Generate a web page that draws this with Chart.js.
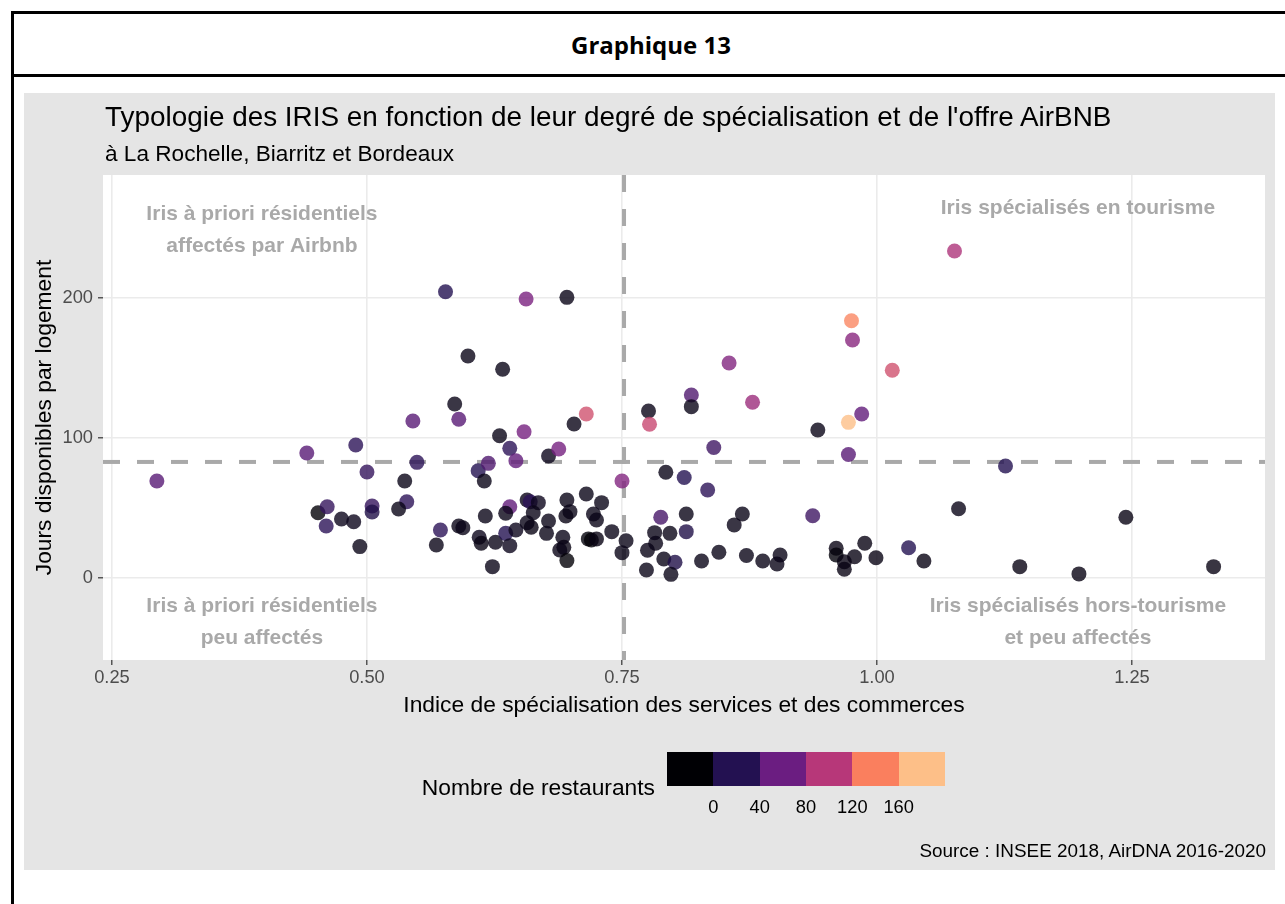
<!DOCTYPE html>
<html lang="fr">
<head>
<meta charset="utf-8">
<title>Graphique 13</title>
<script src="https://cdn.jsdelivr.net/npm/chart.js@4.4.1/dist/chart.umd.min.js"></script>
<style>
  body { margin: 0; width: 1285px; height: 904px; overflow: hidden; position: relative; background: #fff;
         font-family: "Liberation Sans", Arial, sans-serif; }
  #frame { position: absolute; left: 11px; top: 11px; width: 1300px; height: 1000px;
           border-left: 3px solid #000; border-top: 3px solid #000; }
  #header { position: absolute; left: 14px; top: 14px; width: 1274px; height: 60px; border-bottom: 3px solid #000;
            display: flex; align-items: center; justify-content: center;
            font-family: "Open Sans", sans-serif; font-weight: 700; font-size: 24px; }
  #panel { position: absolute; left: 24px; top: 93px; width: 1251px; height: 777px; background: #e5e5e5; }
  #panel canvas { position: absolute; left: 0; top: 0; }
  .txt { position: absolute; line-height: 1; white-space: nowrap; color: #000; }
  #legendBar { position: absolute; left: 667px; top: 752px; width: 278px; height: 34px; display: flex; }
  #legendBar div { flex: 1; }
</style>
</head>
<body>
<div id="frame"></div>
<div id="header">Graphique 13</div>
<div id="panel"><canvas id="iris-chart" width="1251" height="777"></canvas></div>
<div class="txt" style="left:105px;top:102.5px;font-size:27.9px;">Typologie des IRIS en fonction de leur degré de spécialisation et de l'offre AirBNB</div>
<div class="txt" style="left:105px;top:142.7px;font-size:22.6px;">à La Rochelle, Biarritz et Bordeaux</div>
<div class="txt" style="left:0;width:655px;text-align:right;top:775.7px;font-size:22.8px;">Nombre de restaurants</div>
<div id="legendBar"></div>
<div id="legendLabels"></div>
<div class="txt" style="left:0;width:1266px;text-align:right;top:841.5px;font-size:18.9px;">Source : INSEE 2018, AirDNA 2016-2020</div>

<script>
// indice de spécialisation (x), jours disponibles par logement (y), nombre de restaurants (couleur)
const indice = [
  0.294, 0.441, 0.489, 0.500, 0.537, 0.549, 0.539, 0.531, 0.452, 0.461,
  0.460, 0.475, 0.487, 0.505, 0.505, 0.493, 0.572, 0.568, 0.590, 0.594,
  0.616, 0.610, 0.612, 0.626, 0.623, 0.640, 0.636, 0.636, 0.646, 0.640,
  0.657, 0.660, 0.668, 0.663, 0.657, 0.661, 0.678, 0.676, 0.696, 0.699,
  0.695, 0.692, 0.693, 0.689, 0.696, 0.715, 0.730, 0.722, 0.725, 0.717,
  0.720, 0.725, 0.740, 0.754, 0.750, 0.609, 0.619, 0.615, 0.640, 0.646,
  0.630, 0.577, 0.599, 0.633, 0.586, 0.545, 0.590, 0.656, 0.696, 0.703,
  0.715, 0.654, 0.678, 0.688, 0.750, 0.776, 0.777, 0.818, 0.818, 0.855,
  0.878, 0.840, 0.793, 0.811, 0.834, 0.788, 0.813, 0.868, 0.860, 0.937,
  1.080, 0.782, 0.797, 0.813, 0.775, 0.783, 0.791, 0.802, 0.774, 0.798,
  0.828, 0.845, 0.872, 0.888, 0.905, 0.902, 0.960, 0.960, 0.968, 0.968,
  0.978, 0.988, 0.999, 1.031, 1.046, 1.126, 1.244, 1.140, 1.198, 1.330,
  1.076, 0.975, 0.976, 1.015, 0.942, 0.972, 0.985, 0.972
];
const jours = [
  69.3, 89.3, 95.0, 75.7, 69.3, 82.6, 54.5, 49.3, 46.6, 50.9,
  37.1, 42.1, 40.2, 51.4, 47.1, 22.4, 34.3, 23.6, 37.1, 35.9,
  44.3, 29.1, 24.8, 25.5, 8.1, 50.9, 46.2, 31.9, 34.3, 23.1,
  55.7, 54.5, 53.8, 46.6, 39.5, 36.2, 40.7, 31.9, 55.7, 47.4,
  44.3, 29.1, 21.9, 20.0, 12.4, 60.0, 53.8, 45.7, 41.4, 27.9,
  27.1, 27.9, 33.1, 26.6, 18.1, 76.6, 81.9, 69.3, 92.6, 83.8,
  101.6, 204.5, 158.6, 149.1, 124.3, 112.1, 113.4, 199.3, 200.5, 110.0,
  117.1, 104.5, 87.1, 92.1, 69.3, 119.3, 109.8, 130.7, 122.4, 153.6,
  125.5, 93.2, 75.5, 71.8, 62.9, 43.4, 45.7, 45.7, 37.9, 44.5,
  49.5, 32.4, 31.9, 33.1, 19.8, 24.8, 13.6, 11.2, 5.7, 2.6,
  12.1, 18.4, 16.1, 12.1, 16.4, 10.0, 21.2, 16.4, 11.6, 6.2,
  15.2, 24.8, 14.5, 21.6, 12.1, 80.0, 43.4, 8.1, 2.9, 8.1,
  233.6, 183.8, 170.0, 148.4, 105.7, 111.2, 117.1, 88.2
];
const restaurants = [
  70, 70, 45, 50, 10, 45, 45, 10, 2, 50,
  45, 12, 12, 50, 35, 10, 45, 10, 10, 10,
  10, 12, 8, 10, 10, 75, 10, 40, 12, 12,
  10, 45, 12, 10, 10, 8, 10, 10, 10, 10,
  8, 10, 8, 10, 2, 10, 10, 10, 10, 3,
  2, 8, 10, 10, 10, 40, 65, 10, 45, 75,
  10, 40, 10, 10, 10, 70, 70, 88, 10, 10,
  135, 85, 12, 85, 92, 10, 130, 65, 10, 92,
  105, 55, 10, 40, 45, 60, 10, 10, 10, 55,
  10, 10, 10, 35, 10, 10, 10, 35, 10, 10,
  10, 10, 10, 10, 10, 10, 8, 3, 8, 8,
  8, 8, 8, 40, 8, 40, 8, 8, 8, 8,
  115, 165, 95, 135, 10, 200, 75, 70
];

const xTicks = [0.25, 0.50, 0.75, 1.00, 1.25];
const yTicks = [0, 100, 200];
const legendBreaks = [0, 40, 80, 120, 160];
const paletteColors = ['#000004', '#231151', '#6b1d81', '#b73779', '#fa7f5e', '#fdbf88'];
const paletteValues = [0, 40, 80, 120, 160, 200];

const seuilIndice = 0.752;
const seuilJours = 82.9;

const quadrantLabels = [
  { lines: ['Iris à priori résidentiels', 'affectés par Airbnb'], x: 0.397, y: 248.6 },
  { lines: ['Iris spécialisés en tourisme'], x: 1.197, y: 264.3 },
  { lines: ['Iris à priori résidentiels', 'peu affectés'], x: 0.397, y: -31.4 },
  { lines: ['Iris spécialisés hors-tourisme', 'et peu affectés'], x: 1.197, y: -31.4 }
];

const FONT = '"Liberation Sans", Arial, sans-serif';

function hexToRgb(h) {
  return [parseInt(h.slice(1, 3), 16), parseInt(h.slice(3, 5), 16), parseInt(h.slice(5, 7), 16)];
}

function colorFor(n) {
  let i = 0;
  while (i < paletteValues.length - 2 && n > paletteValues[i + 1]) i++;
  const t = Math.max(0, Math.min(1, (n - paletteValues[i]) / (paletteValues[i + 1] - paletteValues[i])));
  const a = hexToRgb(paletteColors[i]), b = hexToRgb(paletteColors[i + 1]);
  const c = a.map((v, k) => Math.round(v + (b[k] - v) * t));
  return `rgba(${c[0]}, ${c[1]}, ${c[2]}, 0.8)`;
}

// legend
const bar = document.getElementById('legendBar');
paletteColors.forEach(c => {
  const d = document.createElement('div');
  d.style.background = c;
  bar.appendChild(d);
});
const labels = document.getElementById('legendLabels');
legendBreaks.forEach((v, i) => {
  const d = document.createElement('div');
  d.className = 'txt';
  d.textContent = v;
  d.style.fontSize = '18.3px';
  d.style.top = '798px';
  d.style.width = '60px';
  d.style.textAlign = 'center';
  d.style.left = (667 + (278 / 6) * (i + 1) - 30) + 'px';
  labels.appendChild(d);
});

const panelBackground = {
  id: 'panelBackground',
  beforeDraw(chart) {
    const { ctx, chartArea: a } = chart;
    ctx.save();
    ctx.fillStyle = '#ffffff';
    ctx.fillRect(a.left, a.top, a.right - a.left, a.bottom - a.top);
    ctx.restore();
  }
};

const quadrants = {
  id: 'quadrants',
  beforeDatasetsDraw(chart) {
    const { ctx, chartArea: a, scales: { x, y } } = chart;
    ctx.save();
    ctx.beginPath();
    ctx.rect(a.left, a.top, a.right - a.left, a.bottom - a.top);
    ctx.clip();

    ctx.fillStyle = '#a9a9a9';
    ctx.font = 'bold 21px ' + FONT;
    ctx.textAlign = 'center';
    ctx.textBaseline = 'middle';
    quadrantLabels.forEach(q => {
      const cx = x.getPixelForValue(q.x);
      const cy = y.getPixelForValue(q.y);
      q.lines.forEach((line, i) => {
        ctx.fillText(line, cx, cy + (i - (q.lines.length - 1) / 2) * 32);
      });
    });

    ctx.strokeStyle = '#a9a9a9';
    ctx.lineWidth = 4;
    ctx.setLineDash([17, 17]);
    const yp = y.getPixelForValue(seuilJours);
    ctx.beginPath();
    ctx.moveTo(a.left, yp);
    ctx.lineTo(a.right, yp);
    ctx.stroke();
    const xp = x.getPixelForValue(seuilIndice);
    ctx.beginPath();
    ctx.moveTo(xp, a.top);
    ctx.lineTo(xp, a.bottom);
    ctx.stroke();
    ctx.restore();
  }
};

new Chart(document.getElementById('iris-chart'), {
  type: 'scatter',
  data: {
    datasets: [{
      data: indice.map((v, i) => ({ x: v, y: jours[i] })),
      pointBackgroundColor: restaurants.map(colorFor),
      pointBorderWidth: 0,
      pointRadius: 7.5,
      pointHoverRadius: 7.5
    }]
  },
  options: {
    responsive: false,
    animation: false,
    devicePixelRatio: 1,
    layout: { padding: { top: 82, right: 10, bottom: 150, left: 0 } },
    plugins: { legend: { display: false }, tooltip: { enabled: false } },
    scales: {
      x: {
        type: 'linear',
        min: 0.2412,
        max: 1.3804,
        afterBuildTicks: s => { s.ticks = xTicks.map(v => ({ value: v })); },
        afterFit: s => { s.height = 60; },
        border: { display: false },
        grid: { color: '#ebebeb', lineWidth: 1.6, tickColor: '#333333', tickLength: 5, tickWidth: 1.2 },
        ticks: {
          color: '#4d4d4d', padding: 2, maxRotation: 0, autoSkip: false,
          font: { size: 18.3, family: FONT },
          callback: v => Number(v).toFixed(2)
        },
        title: {
          display: true, text: 'Indice de spécialisation des services et des commerces',
          color: '#000', font: { size: 22.8, family: FONT }, padding: { top: 0, bottom: 1 }
        }
      },
      y: {
        type: 'linear',
        min: -58.6,
        max: 287.9,
        afterBuildTicks: s => { s.ticks = yTicks.map(v => ({ value: v })); },
        afterFit: s => { s.width = 79; },
        border: { display: false },
        grid: { color: '#ebebeb', lineWidth: 1.6, tickColor: '#333333', tickLength: 5, tickWidth: 1.2 },
        ticks: { color: '#4d4d4d', padding: 5, font: { size: 18.3, family: FONT } },
        title: {
          display: true, text: 'Jours disponibles par logement',
          color: '#000', font: { size: 22.8, family: FONT }, padding: { top: 7, bottom: 0 }
        }
      }
    }
  },
  plugins: [panelBackground, quadrants]
});
</script>
</body>
</html>
